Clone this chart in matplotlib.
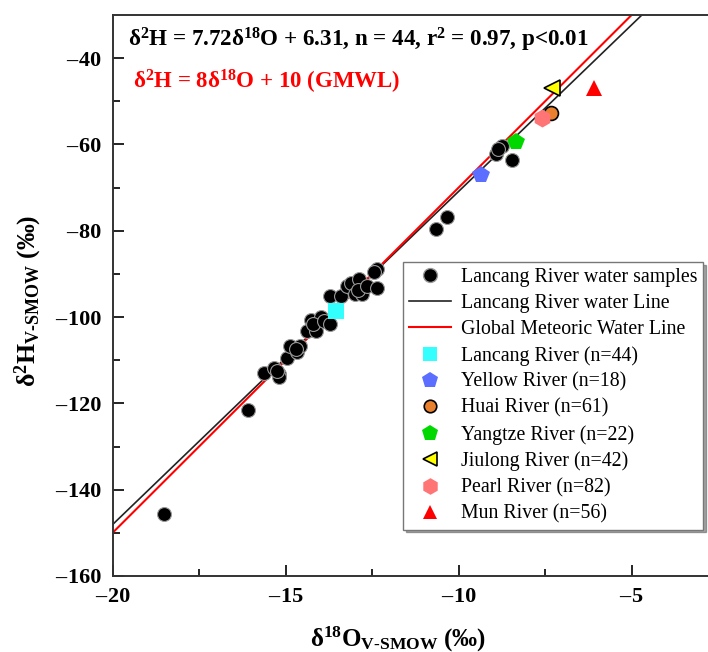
import numpy as np
import matplotlib
matplotlib.use("Agg")
import matplotlib.pyplot as plt
from matplotlib.lines import Line2D
from matplotlib.ticker import FuncFormatter

plt.rcParams['font.family'] = ['Liberation Serif', 'DejaVu Serif']
plt.rcParams['mathtext.fontset'] = 'custom'
plt.rcParams['mathtext.rm'] = 'Liberation Serif:bold'
plt.rcParams['mathtext.it'] = 'Liberation Serif:bold'
plt.rcParams['mathtext.bf'] = 'Liberation Serif:bold'

# Lancang River water samples (d18O, d2H)
lancang_o = [-18.5, -16.08, -15.63, -15.34, -15.19, -15.19, -15.25, -14.95, -14.86,
             -14.66, -14.57, -14.7, -14.37, -14.26, -14.13, -13.99, -14.2, -13.9,
             -13.72, -13.72, -13.41, -13.22, -13.1, -12.98, -12.88, -12.78, -12.9,
             -12.64, -12.37, -12.35, -12.45, -10.64, -10.33, -8.93, -8.74, -8.47, -8.85]
lancang_h = [-145.6, -121.6, -112.9, -111.7, -113.1, -114.0, -112.5, -109.4, -106.7,
             -108.1, -106.7, -107.5, -103.2, -100.7, -103.2, -100.1, -101.5, -101.0,
             -101.7, -95.1, -95.1, -92.8, -92.0, -94.7, -91.2, -94.7, -93.8,
             -92.8, -88.9, -93.3, -89.5, -79.7, -76.8, -62.3, -60.3, -63.6, -61.0]

# mean values of other rivers
rivers = ["Lancang River (n=44)", "Yellow River (n=18)", "Huai River (n=61)",
          "Yangtze River (n=22)", "Jiulong River (n=42)", "Pearl River (n=82)",
          "Mun River (n=56)"]
river_o = [-13.53, -9.36, -7.32, -8.33, -7.29, -7.58, -6.09]
river_h = [-98.6, -67.1, -52.8, -59.4, -47.0, -53.9, -47.0]
river_marker = ["s", "p", "o", "p", "<", "h", "^"]
river_color = ["#33ffff", "#5b6eff", "#e8802e", "#00d800", "#ffff00", "#ff7575", "#ff0000"]
river_edge = ["none", "none", "black", "none", "black", "none", "none"]
river_size = [11, 13, 10, 13, 11, 13, 11]

# regression lines
lmwl_k, lmwl_b = 7.72, 6.31
gmwl_k, gmwl_b = 8, 10

fig = plt.figure(figsize=(7.08, 6.52), dpi=100)
ax = fig.add_axes([0.159, 0.1166, 0.8797, 0.8604])

x_line = np.array([-20, -2])
ax.plot(x_line, lmwl_k * x_line + lmwl_b, color="#222222", lw=1.2, zorder=2)
ax.plot(x_line, gmwl_k * x_line + gmwl_b, color="red", lw=1.5, zorder=2)

ax.plot(lancang_o, lancang_h, "o", ms=10, mfc="black", mec="#999999", mew=0.8,
        ls="none", zorder=3)

for i in range(len(rivers)):
    ax.plot(river_o[i], river_h[i], river_marker[i], ms=river_size[i],
            mfc=river_color[i], mec=river_edge[i], mew=1.2, ls="none", zorder=4)


def fmt(v, pos):
    # 长一点的负号
    if v < 0:
        return "\u2013\u200a%d" % abs(v)
    return "%d" % v


ax.set_xlim(-20, -2)
ax.set_ylim(-160, -30)
ax.set_xticks([-20, -15, -10, -5])
ax.set_xticks([-17.5, -12.5, -7.5, -2.5], minor=True)
ax.set_yticks([-160, -140, -120, -100, -80, -60, -40])
ax.set_yticks([-150, -130, -110, -90, -70, -50], minor=True)
ax.xaxis.set_major_formatter(FuncFormatter(fmt))
ax.yaxis.set_major_formatter(FuncFormatter(fmt))
ax.tick_params(which="major", direction="in", length=8, width=1.2, labelsize=16)
ax.tick_params(axis="x", which="major", pad=8)
ax.tick_params(axis="y", which="major", pad=8)
ax.tick_params(which="minor", direction="in", length=5, width=1.2)
for lab in ax.get_xticklabels() + ax.get_yticklabels():
    lab.set_fontweight("bold")
for sp in ax.spines.values():
    sp.set_linewidth(1.4)
    sp.set_color("#333333")

ax.set_xlabel("δ$^{18}$O$_{\\mathrm{V‐SMOW}}$ (‰)", fontsize=18, fontweight="bold")
ax.set_ylabel("δ$^{2}$H$_{\\mathrm{V‐SMOW}}$ (‰)", fontsize=18.5, fontweight="bold")
ax.xaxis.set_label_coords(0.459, -0.088)
ax.yaxis.set_label_coords(-0.11, 0.49)

fig.text(128 / 708, 1 - 46 / 652,
         "δ$^{2}$H = 7.72δ$^{18}$O + 6.31, n = 44, r$^{2}$ = 0.97, p<0.01",
         fontsize=16.6, fontweight="bold", color="black", va="baseline")
fig.text(133 / 708, 1 - 89 / 652, "δ$^{2}$H = 8δ$^{18}$O + 10 (GMWL)",
         fontsize=16.5, fontweight="bold", color="red", va="baseline")

handles = [Line2D([], [], marker="o", ls="none", ms=10, mfc="black", mec="#999999"),
           Line2D([], [], color="#222222", lw=1.2),
           Line2D([], [], color="red", lw=1.5)]
labels = ["Lancang River water samples", "Lancang River water Line",
          "Global Meteoric Water Line"]
for i in range(len(rivers)):
    handles.append(Line2D([], [], marker=river_marker[i], ls="none", ms=river_size[i] - 1,
                          mfc=river_color[i], mec=river_edge[i], mew=1.2))
    labels.append(rivers[i])

leg = ax.legend(handles, labels, loc="upper left", bbox_to_anchor=(403 / 708, 1 - 262 / 652),
                bbox_transform=fig.transFigure, fontsize=14.3, frameon=True, shadow=True,
                fancybox=False, labelspacing=0.35, handlelength=2.1, handletextpad=0.5,
                borderpad=0.3, borderaxespad=0)
leg.get_frame().set_edgecolor("#777777")
leg.get_frame().set_linewidth(1.0)

fig.savefig("out.png", dpi=100)
